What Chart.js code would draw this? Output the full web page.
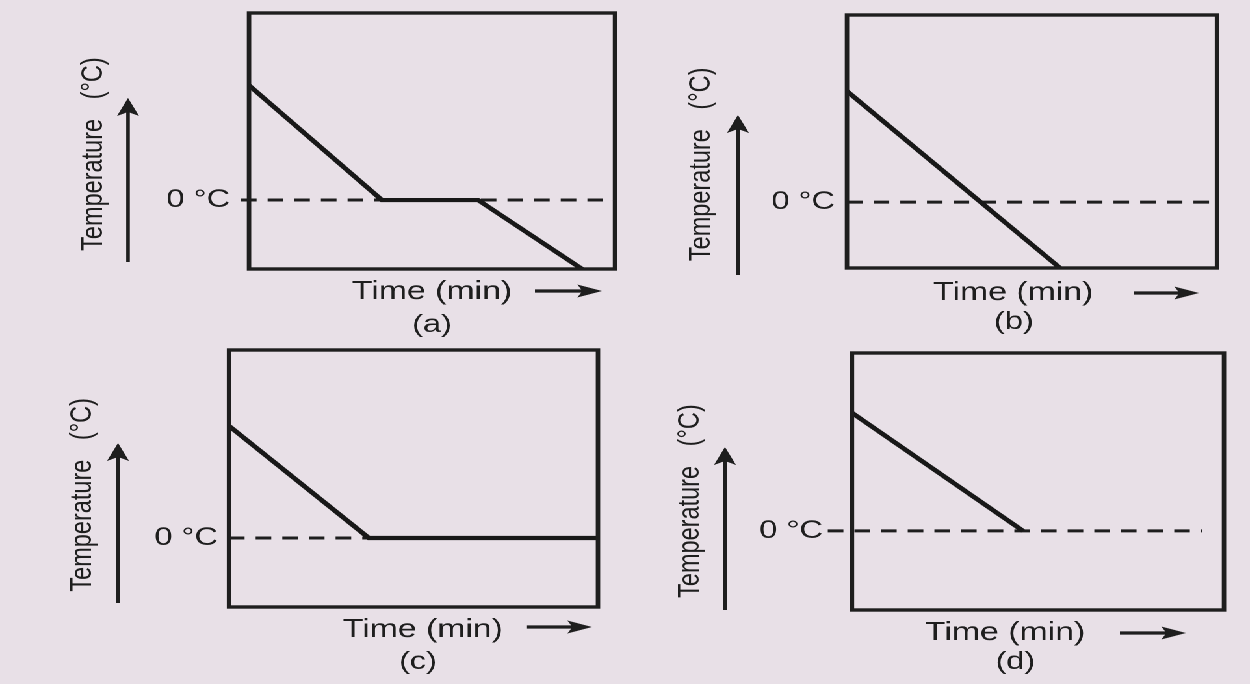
<!DOCTYPE html>
<html>
<head>
<meta charset="utf-8">
<script src="https://cdn.jsdelivr.net/npm/chart.js@4/dist/chart.umd.min.js"></script>
<style>
  html, body { margin: 0; padding: 0; width: 1250px; height: 684px; overflow: hidden; background: #e8e0e7; }
  #wrap { position: absolute; left: 0; top: 0; width: 961.54px; height: 684px; transform: scaleX(1.3); transform-origin: 0 0; }
  canvas { position: absolute; }
</style>
</head>
<body>
<div id="wrap">
  <canvas id="cA" width="440" height="340" style="left:40px;top:0px;width:440px;height:340px"></canvas>
  <canvas id="cB" width="450" height="337" style="left:500px;top:0px;width:450px;height:337px"></canvas>
  <canvas id="cC" width="440" height="337" style="left:40px;top:340px;width:440px;height:337px"></canvas>
  <canvas id="cD" width="450" height="337" style="left:500px;top:340px;width:450px;height:337px"></canvas>
</div>
<script>
// ---------------- data ----------------
const timeRange = [0, 10];             // min (arbitrary units along the axis)
const tickValues = [0];                // only the 0 °C mark is labelled
const tickLabel = '0 °C';

// (a) cooling, plateau at 0 °C, cooling again
const timeA = [0, 3.63, 6.26, 9.10];
const tempA = [13.3, 0, 0, -8];
const zeroTimeA = [-0.22, 10];
const tempRangeA = [-8, 21.7];

// (b) steady cooling straight through 0 °C
const timeB = [0, 5.76];
const tempB = [13.45, -8];
const zeroTimeB = [0, 10];
const tempRangeB = [-8, 22.7];

// (c) cooling to 0 °C then constant
const timeC = [0, 3.79, 10];
const tempC = [13.0, 0, 0];
const zeroTimeC = [0, 3.79];
const tempRangeC = [-8, 21.8];

// (d) cooling to 0 °C only
const timeD = [0, 4.60];
const tempD = [11.95, 0];
const zeroTimeD = [-0.65, 9.41];
const tempRangeD = [-8, 18.0];

const captions = ['(a)', '(b)', '(c)', '(d)'];
const yTitle = 'Temperature   (°C)';
const xTitle = 'Time (min)';

// ---------------- styling / layout ----------------
const INK = '#1e1e1e';
Chart.defaults.font.family = "'Liberation Sans', Arial, Helvetica, sans-serif";
Chart.defaults.color = INK;

const frameArrows = {
  id: 'frameArrows',
  afterDraw(chart, args, o) {
    const ctx = chart.ctx, a = chart.chartArea;
    ctx.save();
    ctx.strokeStyle = INK;
    ctx.fillStyle = INK;
    ctx.lineWidth = 3.4;
    ctx.strokeRect(a.left, a.top, a.right - a.left, a.bottom - a.top);
    // up arrow next to the y title
    ctx.lineWidth = 2.8;
    ctx.beginPath();
    ctx.moveTo(o.up.x, o.up.y1);
    ctx.lineTo(o.up.x, o.up.y2 + 12);
    ctx.stroke();
    ctx.beginPath();
    ctx.moveTo(o.up.x, o.up.y2);
    ctx.lineTo(o.up.x - 8.5, o.up.y2 + 18);
    ctx.lineTo(o.up.x, o.up.y2 + 14);
    ctx.lineTo(o.up.x + 8.5, o.up.y2 + 18);
    ctx.closePath();
    ctx.fill();
    // right arrow after the x title
    ctx.lineWidth = 3.2;
    ctx.beginPath();
    ctx.moveTo(o.right.x1, o.right.y);
    ctx.lineTo(o.right.x2 - 12, o.right.y);
    ctx.stroke();
    ctx.beginPath();
    ctx.moveTo(o.right.x2, o.right.y);
    ctx.lineTo(o.right.x2 - 19, o.right.y - 6.5);
    ctx.lineTo(o.right.x2 - 15, o.right.y);
    ctx.lineTo(o.right.x2 - 19, o.right.y + 6.5);
    ctx.closePath();
    ctx.fill();
    ctx.restore();
  }
};

function pts(xs, ys) { return xs.map((x, i) => ({ x: x, y: ys[i] })); }

function makeChart(id, t, v, zt, range, caption, L) {
  new Chart(document.getElementById(id), {
    type: 'line',
    data: {
      datasets: [
        { data: pts(zt, zt.map(() => 0)), borderColor: INK, borderWidth: 3,
          borderDash: [12, 8.5], pointRadius: 0, clip: false, order: 2 },
        { data: pts(t, v), borderColor: '#181818', borderWidth: 4.2,
          pointRadius: 0, tension: 0, clip: false, order: 1, borderJoinStyle: 'miter' }
      ]
    },
    options: {
      responsive: false,
      animation: false,
      devicePixelRatio: 2,
      events: [],
      layout: { autoPadding: false, padding: { top: L.padTop, right: L.padRight, left: 0, bottom: 0 } },
      scales: {
        x: {
          type: 'linear', min: timeRange[0], max: timeRange[1],
          ticks: { display: false },
          grid: { display: false, drawTicks: false },
          border: { display: false },
          afterFit: s => { s.height = L.xHeight; s.paddingLeft = 0; s.paddingRight = 0; },
          title: { display: true, text: L.xPre + xTitle + L.xPost, color: INK,
                   font: { size: 26, lineHeight: 1.0 }, padding: { top: 0, bottom: L.xPadBottom } }
        },
        y: {
          type: 'linear', min: range[0], max: range[1],
          afterBuildTicks: s => { s.ticks = tickValues.map(val => ({ value: val })); },
          afterFit: s => { s.width = L.yWidth; s.paddingTop = 0; s.paddingBottom = 0; },
          grid: { display: false, drawTicks: false },
          border: { display: false },
          ticks: { padding: L.tickPad, color: INK, font: { size: 25 }, callback: () => tickLabel },
          title: { display: true, text: yTitle + L.yPost, color: INK,
                   font: { size: 23.5, lineHeight: 1.2 }, padding: { top: L.yPadTop, bottom: 0 } }
        }
      },
      plugins: {
        legend: { display: false },
        tooltip: { enabled: false },
        title: { display: true, text: L.capPre + caption + L.capPost, position: 'bottom', fullSize: false,
                 color: INK, font: { size: 25, weight: 'normal', lineHeight: 1.2 }, padding: 0 },
        frameArrows: { up: L.up, right: L.right }
      }
    },
    plugins: [frameArrows]
  });
}

const sp = n => ' '.repeat(n);

makeChart('cA', timeA, tempA, zeroTimeA, tempRangeA, captions[0], {
  padTop: 13, padRight: 6.92, xHeight: 41, xPadBottom: 5, yWidth: 151.54, tickPad: 14.6, yPadTop: 18.1,
  xPre: '', xPost: '', yPost: sp(4), capPre: '', capPost: '',
  up: { x: 58.46, y1: 262, y2: 98 }, right: { x1: 371.5, x2: 423.1, y: 291 }
});
makeChart('cB', timeB, tempB, zeroTimeB, tempRangeB, captions[1], {
  padTop: 15, padRight: 13.85, xHeight: 39, xPadBottom: 1, yWidth: 151.54, tickPad: 9.2, yPadTop: 25.4,
  xPre: '', xPost: sp(4), yPost: sp(7), capPre: '', capPost: sp(4),
  up: { x: 67.69, y1: 275, y2: 115 }, right: { x1: 372.3, x2: 422.3, y: 293 }
});
makeChart('cC', timeC, tempC, zeroTimeC, tempRangeC, captions[2], {
  padTop: 10, padRight: 20, xHeight: 40, xPadBottom: 4, yWidth: 136.15, tickPad: 8.5, yPadTop: 9.3,
  xPre: sp(2), xPost: '', yPost: sp(5), capPre: sp(1), capPost: '',
  up: { x: 50.77, y1: 263, y2: 103 }, right: { x1: 365.4, x2: 415.4, y: 287 }
});
makeChart('cD', timeD, tempD, zeroTimeD, tempRangeD, captions[3], {
  padTop: 13, padRight: 8.46, xHeight: 37, xPadBottom: 1, yWidth: 155.38, tickPad: 22.3, yPadTop: 17,
  xPre: '', xPost: sp(7), yPost: sp(6), capPre: '', capPost: sp(5),
  up: { x: 57.7, y1: 270, y2: 107 }, right: { x1: 361.5, x2: 412.3, y: 293 }
});
</script>
</body>
</html>
